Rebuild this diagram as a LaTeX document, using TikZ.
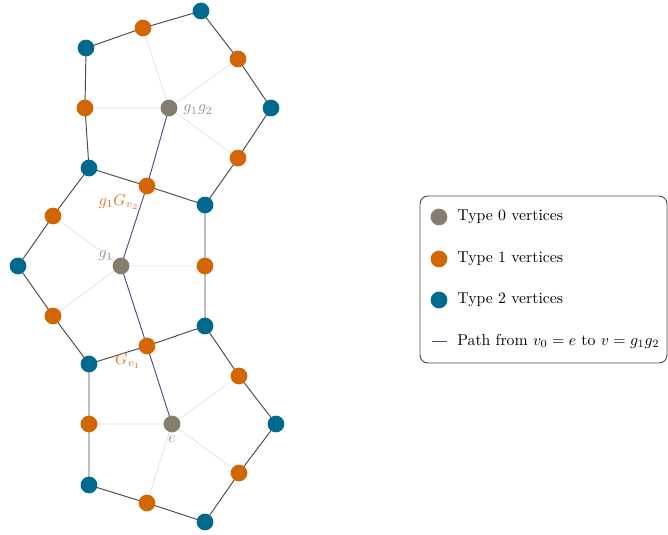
\documentclass[tikz,border=0pt]{standalone}
\usetikzlibrary{backgrounds}
\definecolor{tzero}{HTML}{857D6E}
\definecolor{tone}{HTML}{D16603}
\definecolor{ttwo}{HTML}{006A8E}
\definecolor{tzerolab}{HTML}{9A927F}
\definecolor{tonelab}{HTML}{D9782A}
\definecolor{pathcol}{HTML}{574692}
\definecolor{edgedark}{HTML}{4A4A4A}
\definecolor{edgelight}{HTML}{E4E4E4}
\begin{document}
\begin{tikzpicture}[x=0.633pt,y=-0.633pt,
  vert/.style={circle,inner sep=0pt,minimum size=10.6pt},
  vzero/.style={vert,fill=tzero},
  vone/.style={vert,fill=tone},
  vtwo/.style={vert,fill=ttwo},
  bedge/.style={draw=edgedark,line width=0.6pt},
  ledge/.style={draw=edgelight,line width=0.5pt},
  pedge/.style={draw=pathcol,line width=0.6pt},
  zlab/.style={text=tzerolab,inner sep=0pt},
  olab/.style={text=tonelab,inner sep=0pt},
  legtext/.style={anchor=west,inner sep=0pt}]
\useasboundingbox (0,0) rectangle (668,534);
% type 0
\node[vzero] (A) at (169,108) {};
\node[vzero] (B) at (121,266) {};
\node[vzero] (C) at (172,424) {};
% type 1
\node[vone] (o1) at (143,28) {};
\node[vone] (o2) at (238,59) {};
\node[vone] (o3) at (85,108) {};
\node[vone] (o4) at (238,158) {};
\node[vone] (o5) at (147,186) {};
\node[vone] (o6) at (53,216) {};
\node[vone] (o7) at (205,266) {};
\node[vone] (o8) at (53,316) {};
\node[vone] (o9) at (147,346) {};
\node[vone] (o10) at (239,376) {};
\node[vone] (o11) at (89,424) {};
\node[vone] (o12) at (239,473) {};
\node[vone] (o13) at (147,503) {};
% type 2
\node[vtwo] (b1) at (201,11) {};
\node[vtwo] (b2) at (86,48) {};
\node[vtwo] (b3) at (271,108) {};
\node[vtwo] (b4) at (89,168) {};
\node[vtwo] (b5) at (205,205) {};
\node[vtwo] (b6) at (18,266) {};
\node[vtwo] (b7) at (205,326) {};
\node[vtwo] (b8) at (89,364) {};
\node[vtwo] (b9) at (276,424) {};
\node[vtwo] (b10) at (89,485) {};
\node[vtwo] (b11) at (205,522) {};
\begin{pgfonlayer}{background}
\path[ledge] (A.center) -- (o1.center) (A.center) -- (o2.center) (A.center) -- (o3.center) (A.center) -- (o4.center)
  (B.center) -- (o6.center) (B.center) -- (o7.center) (B.center) -- (o8.center)
  (C.center) -- (o10.center) (C.center) -- (o11.center) (C.center) -- (o12.center) (C.center) -- (o13.center);
\path[bedge] (b2.center) -- (o1.center) -- (b1.center) -- (o2.center) -- (b3.center) -- (o4.center) -- (b5.center) -- (o5.center) -- (b4.center) -- (o3.center) -- (b2.center);
\path[bedge] (b4.center) -- (o6.center) -- (b6.center) -- (o8.center) -- (b8.center) -- (o9.center) -- (b7.center) -- (o7.center) -- (b5.center);
\path[bedge] (b8.center) -- (o11.center) -- (b10.center) -- (o13.center) -- (b11.center) -- (o12.center) -- (b9.center) -- (o10.center) -- (b7.center);
\path[pedge] (C.center) -- (o9.center) -- (B.center) -- (o5.center) -- (A.center);
\end{pgfonlayer}
% labels
\node[zlab] (lA) at (198,110) {$g_1g_2$};
\node[olab] (lo5) at (119,202) {$g_1G_{v_2}$};
\node[zlab] (lB) at (106,256) {$g_1$};
\node[olab] (lo9) at (128,361) {$G_{v_1}$};
\node[zlab] (lC) at (172,439) {$e$};
% legend
\draw[draw=edgedark,line width=0.6pt,rounded corners=5pt] (420,196) rectangle (667,363);
\node[vzero] (k0) at (439,217) {};
\node[vone] (k1) at (439,259) {};
\node[vtwo] (k2) at (439,300) {};
\coordinate (k3a) at (432,341);
\coordinate (k3b) at (447,341);
\draw[pedge] (k3a) -- (k3b);
\node[legtext] (t0) at (457,217) {Type 0 vertices};
\node[legtext] (t1) at (457,259) {Type 1 vertices};
\node[legtext] (t2) at (457,300) {Type 2 vertices};
\node[legtext] (t3) at (457,341) {Path from $v_0=e$ to $v=g_1g_2$};
\end{tikzpicture}
\end{document}
